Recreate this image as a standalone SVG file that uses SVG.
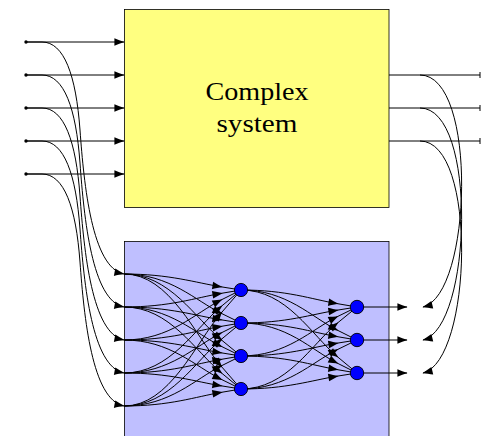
<svg xmlns="http://www.w3.org/2000/svg" width="481" height="436" viewBox="0 0 481 436">
<style>
.c{fill:none;stroke:#000;stroke-width:1}
.a{marker-end:url(#ah)}
.m{marker-mid:url(#ah)}
.n{fill:#0000ff;stroke:#000;stroke-width:0.9}
.d{fill:#000}
.lbl{font-family:"Liberation Serif","Times New Roman",serif;font-size:25px;fill:#000}
</style>
<defs>
<marker id="ah" markerUnits="userSpaceOnUse" markerWidth="12" markerHeight="10" refX="0" refY="0" orient="auto" overflow="visible">
<path d="M0.6,0 C-3,-1.1 -6.5,-2.6 -9.6,-3.8 L-9.6,3.8 C-6.5,2.6 -3,1.1 0.6,0Z" fill="#000"/>
</marker>
</defs>
<g id="complex-system">
<rect x="124.5" y="9.5" width="264.5" height="198" fill="#ffff80" stroke="#000" stroke-width="0.8"/>
<text class="lbl" x="257" y="99.5" text-anchor="middle" textLength="103" lengthAdjust="spacingAndGlyphs">Complex</text>
<text class="lbl" x="257" y="131.5" text-anchor="middle" textLength="81" lengthAdjust="spacingAndGlyphs">system</text>
</g>
<g id="network-box">
<rect x="124.5" y="241.5" width="264.5" height="210" fill="#bfbfff" stroke="#000" stroke-width="0.8"/>
</g>
<g id="inputs">
<circle class="d" cx="26" cy="42" r="1.7"/>
<circle class="d" cx="26" cy="75" r="1.7"/>
<circle class="d" cx="26" cy="108" r="1.7"/>
<circle class="d" cx="26" cy="141" r="1.7"/>
<circle class="d" cx="26" cy="174" r="1.7"/>
</g>
<g id="connectors">
<path class="c a" d="M26,42 H124"/>
<path class="c a" d="M26,75 H124"/>
<path class="c a" d="M26,108 H124"/>
<path class="c a" d="M26,141 H124"/>
<path class="c a" d="M26,174 H124"/>
<path class="c a" d="M26,42 H42 C64,42 76,75 80,130 C84,185 92,268 124,274"/>
<path class="c a" d="M26,75 H42 C64,75 76,108 80,163 C84,218 92,301 124,307"/>
<path class="c a" d="M26,108 H42 C64,108 76,141 80,196 C84,251 92,334 124,340"/>
<path class="c a" d="M26,141 H42 C64,141 76,174 80,229 C84,284 92,367 124,373"/>
<path class="c a" d="M26,174 H42 C64,174 76,207 80,262 C84,317 92,400 124,406"/>
<path class="c" d="M389,75 H480 M480,72 V78"/>
<path class="c" d="M389,108 H480 M480,105 V111"/>
<path class="c" d="M389,141 H480 M480,138 V144"/>
<path class="c a" d="M420,75 C478,75 472,295 423,307"/>
<path class="c a" d="M420,108 C478,108 472,328 423,340"/>
<path class="c a" d="M420,141 C478,141 472,361 423,373"/>
<path class="c m" d="M124,274 C170,274 195,282.64 222,286.96 L241,290"/>
<path class="c m" d="M124,307 C170,307 195,297.82 222,293.23 L241,290"/>
<path class="c m" d="M124,340 C170,340 195,313 222,299.5 L241,290"/>
<path class="c m" d="M124,373 C170,373 195,328.18 222,305.77 L241,290"/>
<path class="c m" d="M124,406 C170,406 195,343.36 222,312.04 L241,290"/>
<path class="c m" d="M124,274 C170,274 195,300.46 222,313.69 L241,323"/>
<path class="c m" d="M124,307 C170,307 195,315.64 222,319.96 L241,323"/>
<path class="c m" d="M124,340 C170,340 195,330.82 222,326.23 L241,323"/>
<path class="c m" d="M124,373 C170,373 195,346 222,332.5 L241,323"/>
<path class="c m" d="M124,406 C170,406 195,361.18 222,338.77 L241,323"/>
<path class="c m" d="M124,274 C170,274 195,318.28 222,340.42 L241,356"/>
<path class="c m" d="M124,307 C170,307 195,333.46 222,346.69 L241,356"/>
<path class="c m" d="M124,340 C170,340 195,348.64 222,352.96 L241,356"/>
<path class="c m" d="M124,373 C170,373 195,363.82 222,359.23 L241,356"/>
<path class="c m" d="M124,406 C170,406 195,379 222,365.5 L241,356"/>
<path class="c m" d="M124,274 C170,274 195,336.1 222,367.15 L241,389"/>
<path class="c m" d="M124,307 C170,307 195,351.28 222,373.42 L241,389"/>
<path class="c m" d="M124,340 C170,340 195,366.46 222,379.69 L241,389"/>
<path class="c m" d="M124,373 C170,373 195,381.64 222,385.96 L241,389"/>
<path class="c m" d="M124,406 C170,406 195,396.82 222,392.23 L241,389"/>
<path class="c m" d="M241,290 C287,290 311,299.18 338,303.77 L357,307"/>
<path class="c m" d="M241,323 C287,323 311,314.36 338,310.04 L357,307"/>
<path class="c m" d="M241,356 C287,356 311,329.54 338,316.31 L357,307"/>
<path class="c m" d="M241,389 C287,389 311,344.72 338,322.58 L357,307"/>
<path class="c m" d="M241,290 C287,290 311,317 338,330.5 L357,340"/>
<path class="c m" d="M241,323 C287,323 311,332.18 338,336.77 L357,340"/>
<path class="c m" d="M241,356 C287,356 311,347.36 338,343.04 L357,340"/>
<path class="c m" d="M241,389 C287,389 311,362.54 338,349.31 L357,340"/>
<path class="c m" d="M241,290 C287,290 311,334.82 338,357.23 L357,373"/>
<path class="c m" d="M241,323 C287,323 311,350 338,363.5 L357,373"/>
<path class="c m" d="M241,356 C287,356 311,365.18 338,369.77 L357,373"/>
<path class="c m" d="M241,389 C287,389 311,380.36 338,376.04 L357,373"/>
<path class="c a" d="M357,307 H407"/>
<path class="c a" d="M357,340 H407"/>
<path class="c a" d="M357,373 H407"/>
</g>
<g id="hidden-layer">
<circle id="h1" class="n" cx="241" cy="290" r="6.6"/>
<circle id="h2" class="n" cx="241" cy="323" r="6.6"/>
<circle id="h3" class="n" cx="241" cy="356" r="6.6"/>
<circle id="h4" class="n" cx="241" cy="389" r="6.6"/>
</g>
<g id="output-layer">
<circle id="o1" class="n" cx="357" cy="307" r="6.7"/>
<circle id="o2" class="n" cx="357" cy="340" r="6.7"/>
<circle id="o3" class="n" cx="357" cy="373" r="6.7"/>
</g>
</svg>
